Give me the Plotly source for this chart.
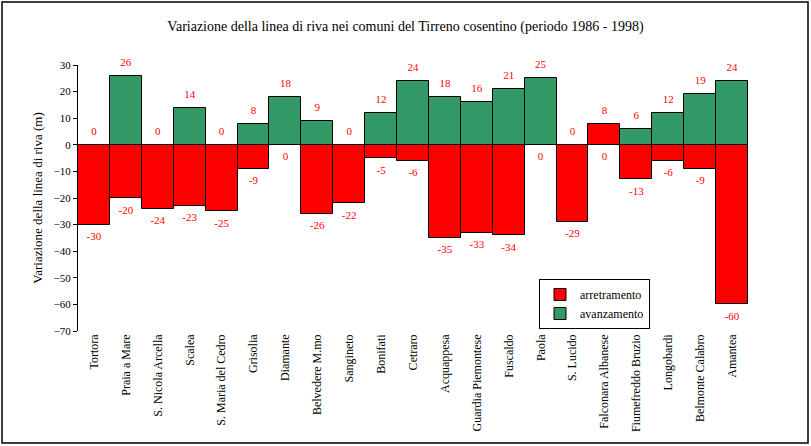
import plotly.graph_objects as go

comuni = ["Tortora", "Praia a Mare", "S. Nicola Arcella", "Scalea", "S. Maria del Cedro",
          "Grisolia", "Diamante", "Belvedere M.mo", "Sangineto", "Bonifati", "Cetraro",
          "Acquappesa", "Guardia Piemontese", "Fuscaldo", "Paola", "S. Lucido",
          "Falconara Albanese", "Fiumefreddo Bruzio", "Longobardi", "Belmonte Calabro", "Amantea"]
avanzamento = [0, 26, 0, 14, 0, 8, 18, 9, 0, 12, 24, 18, 16, 21, 25, 0, 8, 6, 12, 19, 24]
arretramento = [-30, -20, -24, -23, -25, -9, 0, -26, -22, -5, -6, -35, -33, -34, 0, -29, 0, -13, -6, -9, -60]
y_ticks = [30, 20, 10, 0, -10, -20, -30, -40, -50, -60, -70]

RED = "#FF0000"
GREEN = "#339966"
FONT = "Liberation Serif, Times New Roman, serif"

avanz_colors = [GREEN] * len(comuni)
avanz_colors[comuni.index("Falconara Albanese")] = RED

fig = go.Figure()
fig.add_trace(go.Bar(x=comuni, y=arretramento, name="arretramento",
                     marker=dict(color=RED, line=dict(color="black", width=1))))
fig.add_trace(go.Bar(x=comuni, y=avanzamento, name="avanzamento",
                     marker=dict(color=avanz_colors, line=dict(color="black", width=1))))
fig.add_trace(go.Scatter(x=comuni, y=avanzamento, mode="markers+text", text=[str(v) for v in avanzamento],
                         textposition="top center", showlegend=False, hoverinfo="skip", cliponaxis=False,
                         marker=dict(size=10, color="rgba(0,0,0,0)"),
                         textfont=dict(color=RED, size=11, family=FONT)))
fig.add_trace(go.Scatter(x=comuni, y=arretramento, mode="markers+text", text=[str(v) for v in arretramento],
                         textposition="bottom center", showlegend=False, hoverinfo="skip", cliponaxis=False,
                         marker=dict(size=10, color="rgba(0,0,0,0)"),
                         textfont=dict(color=RED, size=11, family=FONT)))

L, R, T, B = 78, 63, 65, 115
W, H = 811, 446
pw, ph = W - L - R, H - T - B

fig.update_layout(
    width=W, height=H,
    margin=dict(l=L, r=R, t=T, b=B),
    paper_bgcolor="white", plot_bgcolor="white",
    barmode="overlay", bargap=0,
    font=dict(family=FONT, color="black", size=11),
    title=dict(text="Variazione della linea di riva nei comuni del Tirreno cosentino (periodo 1986 - 1998)",
               x=0.5, xanchor="center", y=1 - 26 / H, yanchor="middle",
               font=dict(size=14, family=FONT, color="black")),
    legend=dict(x=(539 - L) / pw, y=(331 - 279) / ph, xanchor="left", yanchor="top",
                bordercolor="black", borderwidth=1, bgcolor="white",
                font=dict(size=12, family=FONT), itemwidth=30, tracegroupgap=0),
    showlegend=True,
)
fig.update_xaxes(type="category", range=[-0.5, len(comuni) - 0.5], tickangle=-90, showline=False, ticks="",
                 tickfont=dict(size=12, family=FONT, color="black"), showgrid=False)
fig.update_yaxes(range=[-70, 30], tickvals=y_ticks, showline=True, linecolor="black", linewidth=1,
                 ticks="outside", ticklen=4, tickcolor="black", showgrid=False,
                 zeroline=True, zerolinecolor="black", zerolinewidth=1,
                 title=dict(text="Variazione della linea di riva (m)", font=dict(size=13, family=FONT), standoff=8),
                 tickfont=dict(size=11, family=FONT, color="black"))

fig.add_shape(type="rect", xref="paper", yref="paper",
              x0=(2 - L) / pw, x1=(808 - L) / pw, y0=(331 - 443) / ph, y1=(331 - 2) / ph,
              line=dict(color="black", width=1.5), fillcolor="rgba(0,0,0,0)", layer="above")

fig.write_html("out.html", config={"displayModeBar": False},
               post_script="document.body.style.margin='0';document.body.style.overflow='hidden';")
